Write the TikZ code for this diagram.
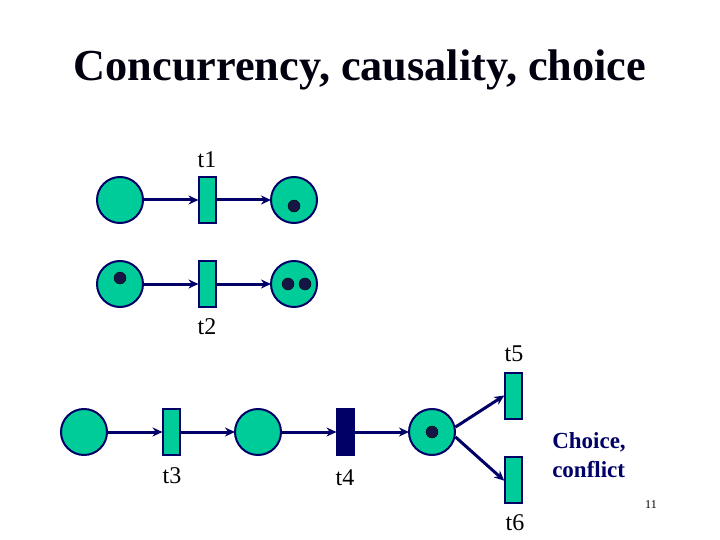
\documentclass[tikz,border=0pt]{standalone}
\usepackage{fontspec}
\setmainfont{Liberation Serif}
\usetikzlibrary{arrows.meta}
\definecolor{fillg}{RGB}{0,204,153}
\definecolor{navy}{RGB}{0,0,102}
\definecolor{tokc}{RGB}{22,22,70}
\tikzset{x=1pt,y=-1pt,
 place/.style={circle,draw=navy,fill=fillg,line width=2pt,minimum size=46pt,inner sep=0pt},
 trans/.style={rectangle,draw=navy,fill=fillg,line width=2pt,minimum width=17pt,minimum height=46pt,inner sep=0pt},
 transdark/.style={trans,fill=navy},
 tok/.style={circle,fill=tokc,draw=black,line width=.4pt,minimum size=12pt,inner sep=0pt},
 arc/.style={draw=navy,line width=3pt,-{Stealth[length=10pt,width=9pt]},shorten >=-1pt},
 lab/.style={font=\fontsize{24}{26}\selectfont,inner sep=0pt,text=black}}
\begin{document}
\begin{tikzpicture}
\useasboundingbox (0,0) rectangle (720,540);
\node[font=\bfseries\fontsize{44.3}{48}\selectfont,inner sep=0pt,text=black!85!navy] (title) at (360,70) {Concurrency, causality, choice};
\node[place] (p1) at (120,200) {};
\node[trans] (a) at (207,200) {};
\node[place] (p2) at (294,200) {};
\node[place] (p3) at (120,284) {};
\node[trans] (b) at (207,284) {};
\node[place] (p4) at (294,284) {};
\node[tok] (k1) at (294,206) {};
\node[tok] (k2) at (120,278) {};
\node[tok] (k3) at (288,284) {};
\node[tok] (k4) at (305,284) {};
\node[place] (p5) at (84,432) {};
\node[trans] (c) at (171,432) {};
\node[place] (p6) at (258,432) {};
\node[transdark] (d) at (345,432) {};
\node[place] (p7) at (432,432) {};
\node[tok] (k5) at (432,432) {};
\node[trans] (e) at (513,396) {};
\node[trans] (f) at (513,480) {};
\draw[arc] (p1) -- (a);
\draw[arc] (a) -- (p2);
\draw[arc] (p3) -- (b);
\draw[arc] (b) -- (p4);
\draw[arc] (p5) -- (c);
\draw[arc] (c) -- (p6);
\draw[arc] (p6) -- (d);
\draw[arc] (d) -- (p7);
\draw[arc] (p7.12) -- (e.west);
\draw[arc] (p7.-12) -- (f.west);
\node[lab] (l1) at (207,160) {t1};
\node[lab] (l2) at (207,327) {t2};
\node[lab] (l3) at (172,476) {t3};
\node[lab] (l4) at (345,478) {t4};
\node[lab] (l5) at (514,354) {t5};
\node[lab] (l6) at (515,523) {t6};
\node[font=\bfseries\fontsize{23}{28.5}\selectfont,inner sep=0pt,align=left,text=navy] (l7) at (589,455) {Choice,\\conflict};
\node[font=\fontsize{12}{14}\selectfont,inner sep=0pt] (n) at (651,505) {11};
\end{tikzpicture}
\end{document}
